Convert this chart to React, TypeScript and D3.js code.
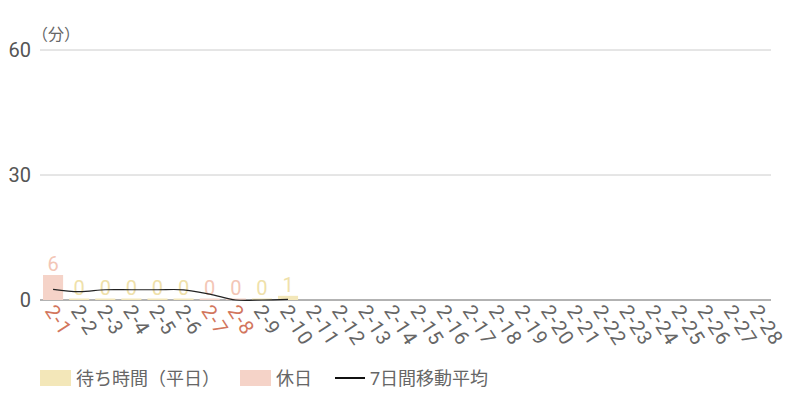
import * as d3 from "d3";
import { useEffect, useRef } from "react";

const days = [
  "2-1", "2-2", "2-3", "2-4", "2-5", "2-6", "2-7", "2-8", "2-9", "2-10",
  "2-11", "2-12", "2-13", "2-14", "2-15", "2-16", "2-17", "2-18", "2-19", "2-20",
  "2-21", "2-22", "2-23", "2-24", "2-25", "2-26", "2-27", "2-28",
];
const waitTimes: (number | null)[] = [6, 0, 0, 0, 0, 0, 0, 0, 0, 1];
const holidays = ["2-1", "2-7", "2-8"];
const movingAvg: number[] = [2.57, 2.0, 2.46, 2.46, 2.46, 2.44, 1.4, 0, 0, 0.15];
const yTicks = [0, 30, 60];

const FONT = "Roboto, 'Noto Sans CJK JP', sans-serif";

export default function App() {
  const ref = useRef<SVGSVGElement>(null);

  const render = () => {
    const width = 800;
    const height = 400;
    const margin = { top: 50, right: 29, bottom: 100, left: 40 };

    const svg = d3.select(ref.current).attr("width", width).attr("height", height);
    svg.selectAll("*").remove();

    const x = d3
      .scaleBand()
      .domain(days)
      .range([margin.left, width - margin.right])
      .paddingInner(0.23)
      .paddingOuter(0.115);
    const y = d3.scaleLinear().domain([0, 60]).range([height - margin.bottom, margin.top]);

    // grid
    svg
      .append("g")
      .selectAll("line")
      .data(yTicks)
      .join("line")
      .attr("x1", margin.left)
      .attr("x2", width - margin.right)
      .attr("y1", (d) => y(d))
      .attr("y2", (d) => y(d))
      .attr("stroke", (d) => (d === 0 ? "#666" : "#ccc"))
      .attr("stroke-width", 1);

    svg
      .append("g")
      .attr("text-anchor", "end")
      .selectAll("text")
      .data(yTicks)
      .join("text")
      .attr("x", 31)
      .attr("y", (d) => y(d))
      .attr("dy", "0.36em")
      .attr("font-family", FONT)
      .attr("font-size", 20)
      .attr("fill", "#555")
      .text((d) => d);

    svg
      .append("text")
      .attr("x", 32)
      .attr("y", 40)
      .attr("font-family", FONT)
      .attr("font-size", 16)
      .attr("fill", "#666")
      .text("（分）");

    const isHoliday = (d: string) => holidays.includes(d);
    const bars = waitTimes.map((v, i) => ({ day: days[i], v }));

    svg
      .append("g")
      .selectAll("rect")
      .data(bars.filter((b) => b.v !== null))
      .join("rect")
      .attr("x", (d) => x(d.day)!)
      .attr("width", x.bandwidth())
      .attr("y", (d) => Math.min(y(d.v!), y(0) - 1.5))
      .attr("height", (d) => Math.max(y(0) - y(d.v!), 1.5))
      .attr("fill", (d) => (isHoliday(d.day) ? "#f5d3c8" : "#f3e7b9"));

    svg
      .append("g")
      .attr("text-anchor", "middle")
      .selectAll("text")
      .data(bars.filter((b) => b.v !== null))
      .join("text")
      .attr("x", (d) => x(d.day)! + x.bandwidth() / 2)
      .attr("y", (d) => Math.min(y(d.v!), y(0) - 1.5) - 4)
      .attr("font-family", FONT)
      .attr("font-size", 20)
      .attr("fill", (d) => (isHoliday(d.day) ? "#f3c6b6" : "#efe1aa"))
      .text((d) => d.v!);

    const line = d3
      .line<number>()
      .x((_, i) => x(days[i])! + x.bandwidth() / 2)
      .y((d) => y(d))
      .curve(d3.curveCatmullRom.alpha(0.5));

    svg
      .append("path")
      .datum(movingAvg)
      .attr("d", line)
      .attr("fill", "none")
      .attr("stroke", "#222")
      .attr("stroke-width", 1.2);

    // x labels, rotated
    svg
      .append("g")
      .selectAll("text")
      .data(days)
      .join("text")
      .attr("transform", (d) => `translate(${x(d)! + x.bandwidth() / 2 - 3},${y(0) + 7}) rotate(57)`)
      .attr("dy", "0.35em")
      .attr("font-family", FONT)
      .attr("font-size", 20)
      .attr("letter-spacing", 1)
      .attr("fill", (d) => (isHoliday(d) ? "#d2765d" : "#666"))
      .text((d) => d);

    // legend
    const legend = svg.append("g").attr("font-family", FONT).attr("font-size", 18).attr("fill", "#666");
    legend.append("rect").attr("x", 40).attr("y", 370).attr("width", 31).attr("height", 16).attr("fill", "#f3e7b9");
    legend.append("text").attr("x", 76).attr("y", 385).text("待ち時間（平日）");
    legend.append("rect").attr("x", 240).attr("y", 370).attr("width", 31).attr("height", 16).attr("fill", "#f5d3c8");
    legend.append("text").attr("x", 276).attr("y", 385).text("休日");
    legend
      .append("line")
      .attr("x1", 335)
      .attr("x2", 365)
      .attr("y1", 378)
      .attr("y2", 378)
      .attr("stroke", "#111")
      .attr("stroke-width", 2);
    legend.append("text").attr("x", 370).attr("y", 385).text("7日間移動平均");
  };

  // eslint-disable-next-line react-hooks/exhaustive-deps
  useEffect(() => { render() }, []);

  return <svg ref={ref} style={{ position: "absolute", left: 0, top: 0 }}></svg>;
}
